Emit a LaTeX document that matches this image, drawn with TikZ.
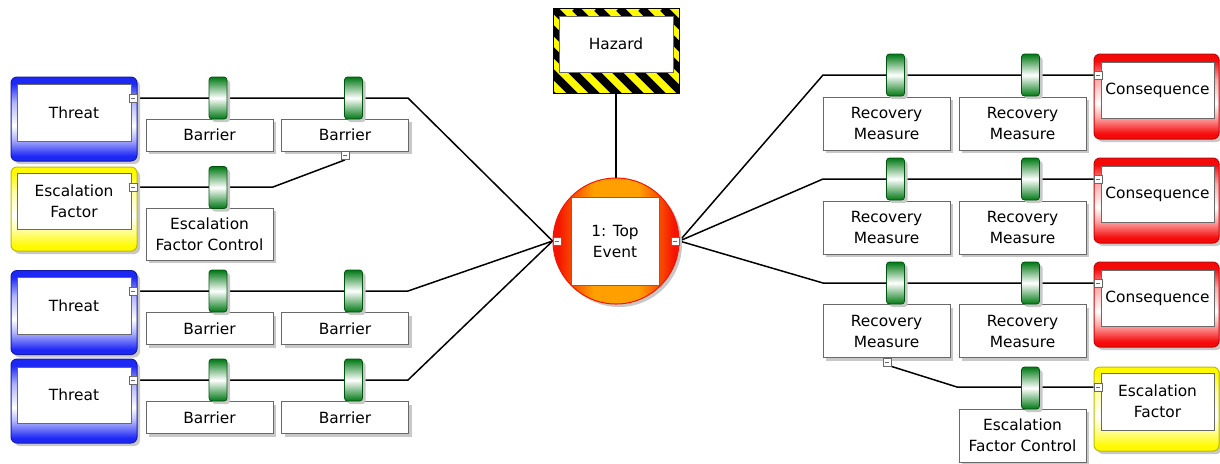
\documentclass[tikz,border=0pt]{standalone}
\usepackage{fontspec}
\setmainfont{DejaVu Sans}
\usetikzlibrary{shadows,backgrounds}
\definecolor{frB}{RGB}{30,40,245}
\definecolor{frR}{RGB}{245,10,10}
\definecolor{frY}{RGB}{255,250,0}
\definecolor{cylG}{RGB}{0,120,20}
\definecolor{teO}{RGB}{255,160,0}
\definecolor{teR}{RGB}{245,20,0}
\definecolor{boxline}{RGB}{105,105,105}
\definecolor{shad}{RGB}{200,200,200}
\pgfdeclareverticalshading{frameB}{100bp}{color(0bp)=(frB); color(28bp)=(frB); color(38bp)=(frB!35!white); color(46bp)=(white); color(60bp)=(frB!35!white); color(71bp)=(frB); color(100bp)=(frB)}
\pgfdeclareverticalshading{frameR}{100bp}{color(0bp)=(frR); color(28bp)=(frR); color(38bp)=(frR!35!white); color(46bp)=(white); color(60bp)=(frR!35!white); color(71bp)=(frR); color(100bp)=(frR)}
\pgfdeclareverticalshading{frameY}{100bp}{color(0bp)=(frY); color(28bp)=(frY); color(38bp)=(frY!35!white); color(46bp)=(white); color(60bp)=(frY!35!white); color(71bp)=(frY); color(100bp)=(frY)}
\pgfdeclarehorizontalshading{teball}{100bp}{color(0bp)=(teR); color(27bp)=(teR); color(41bp)=(teO); color(59bp)=(teO); color(73bp)=(teR); color(100bp)=(teR)}
\begin{document}
\begin{tikzpicture}[x=0.5pt,y=-0.5pt,
  lbl/.style={font=\fontsize{7.7}{10.5}\selectfont, align=center},
  sh/.style={drop shadow={shadow xshift=1.5pt, shadow yshift=-1.5pt, fill=shad, opacity=1}},
  wbox/.style={lbl, rectangle, draw=boxline, fill=white, inner sep=0pt, line width=0.5pt},
  bbox/.style={wbox, sh, minimum width=63.5pt},
  innerbox/.style={wbox},
  frame/.style={rectangle, rounded corners=3pt, inner sep=0pt, minimum width=63pt, minimum height=42pt, sh, line width=0.5pt},
  thr/.style={frame, shading=frameB, draw=frB!70!black},
  csq/.style={frame, shading=frameR, draw=frR!80!black, minimum width=62.5pt, minimum height=42.5pt},
  esc/.style={frame, shading=frameY, draw=frY!75!black},
  cnode/.style={rectangle, draw=boxline, fill=white, minimum size=4pt, inner sep=0pt, line width=0.4pt,
    path picture={\draw[line width=0.4pt] ([xshift=0.9pt]path picture bounding box.west) -- ([xshift=-0.9pt]path picture bounding box.east);}},
  cyl/.style={rectangle, rounded corners=1.5pt, draw=cylG!70!black, line width=0.4pt, top color=cylG, bottom color=cylG, middle color=white, minimum width=9pt, minimum height=21pt, inner sep=0pt, sh},
  conn/.style={line width=0.75pt, black}
]
\useasboundingbox (0,0) rectangle (1220,463);

% ---------- hazard ----------
\begin{scope}
  \clip (553,8) rectangle (679,93);
  \fill[frY] (553,8) rectangle (679,93);
  \foreach \i in {-5,...,7} \draw[line width=3.9pt] ({553+\i*22},8) -- ++(95,95);
\end{scope}
\node[rectangle, draw=black, line width=0.5pt, minimum width=63pt, minimum height=42.5pt, inner sep=0pt] (hz) at (616,50.5) {};
\node[innerbox, minimum width=57pt, minimum height=28pt] (hzi) at (616,44) {Hazard};

% ---------- top event ----------
\node[circle, shading=teball, draw=teR, line width=0.5pt, minimum size=63pt, inner sep=0pt, sh] (te) at (616,241) {};
\node[innerbox, minimum width=44pt, minimum height=44pt] (tei) at (615,241) {1: Top\\Event};
\node[cnode] (tel) at (557,241) {};
\node[cnode] (ter) at (675,241) {};

% ---------- left side ----------
\node[thr] (t1) at (74,119) {};
\node[innerbox, minimum width=57pt, minimum height=28.5pt] (t1i) at (74,112.5) {Threat};
\node[cnode] (t1c) at (133,98) {};
\node[esc] (e1) at (74,209) {};
\node[innerbox, minimum width=57pt, minimum height=28pt] (e1i) at (74,201) {Escalation\\Factor};
\node[cnode] (e1c) at (133,187) {};
\node[thr] (t2) at (74,312.5) {};
\node[innerbox, minimum width=57pt, minimum height=28.5pt] (t2i) at (74,305.5) {Threat};
\node[cnode] (t2c) at (133,291) {};
\node[thr] (t3) at (74,401) {};
\node[innerbox, minimum width=57pt, minimum height=28pt] (t3i) at (74,395) {Threat};
\node[cnode] (t3c) at (133,380) {};

\node[bbox, minimum height=16pt] (b11) at (209.5,135) {Barrier};
\node[bbox, minimum height=16pt] (b12) at (345,135) {Barrier};
\node[cyl] (g11) at (218,98) {};
\node[cyl] (g12) at (353.5,98) {};
\node[cnode] (b12c) at (345,155.5) {};
\node[bbox, minimum height=26pt] (efc1) at (209.5,234) {Escalation\\Factor Control};
\node[cyl] (ge1) at (218,187.5) {};
\node[bbox, minimum height=16pt] (b21) at (209.5,328.5) {Barrier};
\node[bbox, minimum height=16pt] (b22) at (345,328.5) {Barrier};
\node[cyl] (g21) at (218,291) {};
\node[cyl] (g22) at (353.5,291) {};
\node[bbox, minimum height=16pt] (b31) at (209.5,417.5) {Barrier};
\node[bbox, minimum height=16pt] (b32) at (345,417.5) {Barrier};
\node[cyl] (g31) at (218,380) {};
\node[cyl] (g32) at (353.5,380) {};

% ---------- right side ----------
\node[bbox, minimum height=26.5pt] (r11) at (886.5,123.5) {Recovery\\Measure};
\node[bbox, minimum height=26.5pt] (r12) at (1022.5,123.5) {Recovery\\Measure};
\node[cyl] (h11) at (895.5,75) {};
\node[cyl] (h12) at (1030.5,75) {};
\node[bbox, minimum height=26.5pt] (r21) at (886.5,227.5) {Recovery\\Measure};
\node[bbox, minimum height=26.5pt] (r22) at (1022.5,227.5) {Recovery\\Measure};
\node[cyl] (h21) at (895.5,179) {};
\node[cyl] (h22) at (1030.5,179) {};
\node[bbox, minimum height=26.5pt] (r31) at (886.5,331) {Recovery\\Measure};
\node[bbox, minimum height=26.5pt] (r32) at (1022.5,331) {Recovery\\Measure};
\node[cyl] (h31) at (895.5,283) {};
\node[cyl] (h32) at (1030.5,283) {};
\node[cnode] (r31c) at (887,362) {};

\node[csq] (c1) at (1156.5,96.5) {};
\node[innerbox, minimum width=56.5pt, minimum height=28pt] (c1i) at (1157.5,90) {Consequence};
\node[cnode] (c1c) at (1098,75) {};
\node[csq] (c2) at (1156.5,200.5) {};
\node[innerbox, minimum width=56.5pt, minimum height=28pt] (c2i) at (1157.5,194) {Consequence};
\node[cnode] (c2c) at (1098,179) {};
\node[csq] (c3) at (1156.5,304.5) {};
\node[innerbox, minimum width=56.5pt, minimum height=28pt] (c3i) at (1157.5,298) {Consequence};
\node[cnode] (c3c) at (1098,283) {};

\node[esc, minimum width=62.5pt] (e2) at (1156.5,409) {};
\node[innerbox, minimum width=56.5pt, minimum height=28.5pt] (e2i) at (1157.5,401.5) {Escalation\\Factor};
\node[cnode] (e2c) at (1098,387) {};
\node[bbox, minimum height=26.5pt] (efc2) at (1022.5,435.5) {Escalation\\Factor Control};
\node[cyl] (ge2) at (1030.5,388) {};

% ---------- bend points ----------
\coordinate (k1) at (408,98);
\coordinate (k2) at (408,291);
\coordinate (k3) at (408,380);
\coordinate (ke1) at (273,187);
\coordinate (m1) at (823,75);
\coordinate (m2) at (823,179);
\coordinate (m3) at (823,283);
\coordinate (me2) at (957,387);

% ---------- connectors ----------
\begin{scope}[on background layer]
  \draw[conn] (hz.south) -- (te.north);
  \draw[conn] (t1c.east) -- (k1) -- (tel.west);
  \draw[conn] (t2c.east) -- (k2) -- (tel.west);
  \draw[conn] (t3c.east) -- (k3) -- (tel.west);
  \draw[conn] (e1c.east) -- (ke1) -- (b12c.south);
  \draw[conn] (ter.east) -- (m1) -- (c1c.west);
  \draw[conn] (ter.east) -- (m2) -- (c2c.west);
  \draw[conn] (ter.east) -- (m3) -- (c3c.west);
  \draw[conn] (r31c.south east) -- (me2) -- (e2c.west);
\end{scope}
\end{tikzpicture}
\end{document}
